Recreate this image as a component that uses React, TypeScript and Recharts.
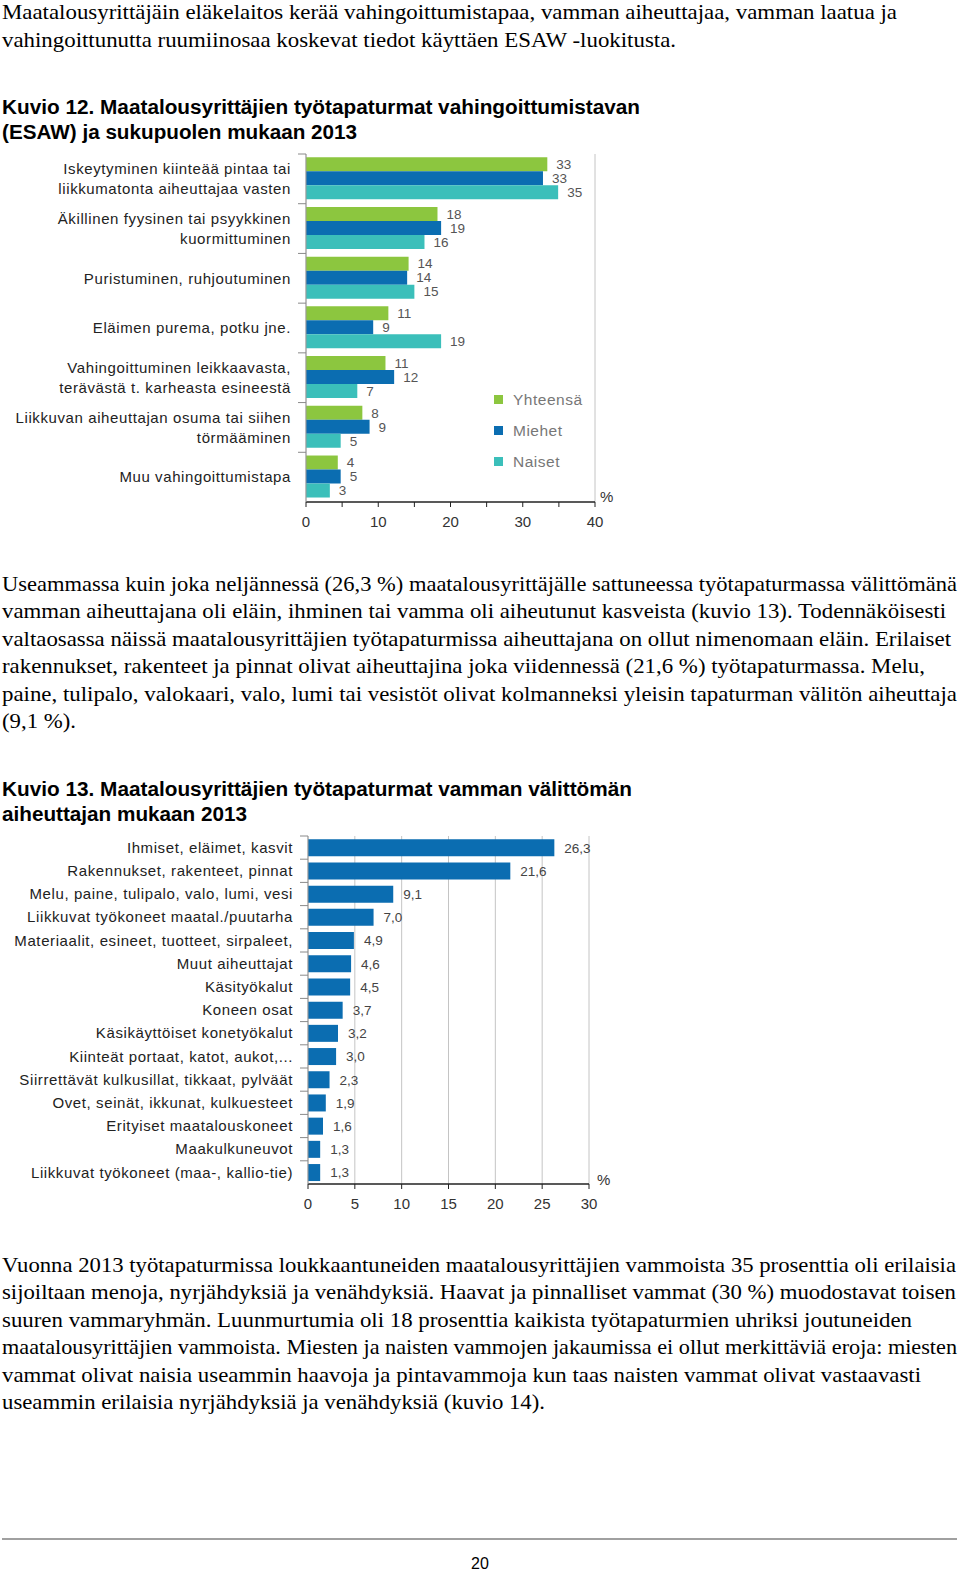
import React from 'react';
import { Bar, BarChart, CartesianGrid, LabelList, Legend, XAxis, YAxis } from 'recharts';

// Kuvio 12: vahingoittumistapa (ESAW) ja sukupuoli, %
const injuryModes = [
  'Iskeytyminen kiinteää pintaa tai\nliikkumatonta aiheuttajaa vasten',
  'Äkillinen fyysinen tai psyykkinen\nkuormittuminen',
  'Puristuminen, ruhjoutuminen',
  'Eläimen purema, potku jne.',
  'Vahingoittuminen leikkaavasta,\nterävästä t. karheasta esineestä',
  'Liikkuvan aiheuttajan osuma tai siihen\ntörmääminen',
  'Muu vahingoittumistapa',
];
const totalPct = [33.4, 18.2, 14.2, 11.4, 11.0, 7.8, 4.4];
const menPct = [32.8, 18.7, 14.0, 9.3, 12.2, 8.8, 4.8];
const womenPct = [34.9, 16.4, 15.0, 18.7, 7.1, 4.8, 3.3];
const seriesNames = ['Yhteensä', 'Miehet', 'Naiset'];
const modeTicks = [0, 5, 10, 15, 20, 25, 30, 35, 40];
const modeGrid = [10, 20, 30, 40];

// Kuvio 13: vamman välitön aiheuttaja, %
const causes = [
  'Ihmiset, eläimet, kasvit',
  'Rakennukset, rakenteet, pinnat',
  'Melu, paine, tulipalo, valo, lumi, vesi',
  'Liikkuvat työkoneet maatal./puutarha',
  'Materiaalit, esineet, tuotteet, sirpaleet,',
  'Muut aiheuttajat',
  'Käsityökalut',
  'Koneen osat',
  'Käsikäyttöiset konetyökalut',
  'Kiinteät portaat, katot, aukot,...',
  'Siirrettävät kulkusillat, tikkaat, pylväät',
  'Ovet, seinät, ikkunat, kulkuesteet',
  'Erityiset maatalouskoneet',
  'Maakulkuneuvot',
  'Liikkuvat työkoneet (maa-, kallio-tie)',
];
const causeShares = [26.3, 21.6, 9.1, 7.0, 4.9, 4.6, 4.5, 3.7, 3.2, 3.0, 2.3, 1.9, 1.6, 1.3, 1.3];
const causeTicks = [0, 5, 10, 15, 20, 25, 30];

const GREEN = '#8cc63f';
const BLUE = '#0b6db1';
const TEAL = '#3bbfba';
const SANS = '"Liberation Sans", Arial, sans-serif';
const SERIF = '"Liberation Serif", "Times New Roman", serif';

const modeData = injuryModes.map((name, i) => ({
  name,
  total: totalPct[i],
  men: menPct[i],
  women: womenPct[i],
}));
const causeData = causes.map((name, i) => ({ name, share: causeShares[i] }));

// page text: [text, baseline y, width]
const para1 = [
  ['Maatalousyrittäjäin eläkelaitos kerää vahingoittumistapaa, vamman aiheuttajaa, vamman laatua ja', 19, 895],
  ['vahingoittunutta ruumiinosaa koskevat tiedot käyttäen ESAW -luokitusta.', 47, 674],
];
const heading12 = [
  ['Kuvio 12. Maatalousyrittäjien työtapaturmat vahingoittumistavan', 114, 638],
  ['(ESAW) ja sukupuolen mukaan 2013', 139, 355],
];
const para2 = [
  ['Useammassa kuin joka neljännessä (26,3 %) maatalousyrittäjälle sattuneessa työtapaturmassa välittömänä', 591, 955],
  ['vamman aiheuttajana oli eläin, ihminen tai vamma oli aiheutunut kasveista (kuvio 13). Todennäköisesti', 618, 944],
  ['valtaosassa näissä maatalousyrittäjien työtapaturmissa aiheuttajana on ollut nimenomaan eläin. Erilaiset', 646, 949],
  ['rakennukset, rakenteet ja pinnat olivat aiheuttajina joka viidennessä (21,6 %) työtapaturmassa. Melu,', 673, 923],
  ['paine, tulipalo, valokaari, valo, lumi tai vesistöt olivat kolmanneksi yleisin tapaturman välitön aiheuttaja', 701, 955],
  ['(9,1 %).', 728, 74],
];
const heading13 = [
  ['Kuvio 13. Maatalousyrittäjien työtapaturmat vamman välittömän', 796, 630],
  ['aiheuttajan mukaan 2013', 821, 245],
];
const para3 = [
  ['Vuonna 2013 työtapaturmissa loukkaantuneiden maatalousyrittäjien vammoista 35 prosenttia oli erilaisia', 1272, 954],
  ['sijoiltaan menoja, nyrjähdyksiä ja venähdyksiä. Haavat ja pinnalliset vammat (30 %) muodostavat toisen', 1299, 954],
  ['suuren vammaryhmän. Luunmurtumia oli 18 prosenttia kaikista työtapaturmien uhriksi joutuneiden', 1327, 910],
  ['maatalousyrittäjien vammoista. Miesten ja naisten vammojen jakaumissa ei ollut merkittäviä eroja: miesten', 1354, 955],
  ['vammat olivat naisia useammin haavoja ja pintavammoja kun taas naisten vammat olivat vastaavasti', 1382, 919],
  ['useammin erilaisia nyrjähdyksiä ja venähdyksiä (kuvio 14).', 1409, 543],
];

const TextLines = ({ lines, font, size, weight }: any) => (
  <>
    {lines.map(([t, y, w]: any) => (
      <text
        key={t}
        x={2}
        y={y}
        textLength={w}
        lengthAdjust="spacingAndGlyphs"
        fontFamily={font}
        fontSize={size}
        fontWeight={weight}
        fill="#000"
      >
        {t}
      </text>
    ))}
  </>
);

const CategoryTick = (props: any) => {
  const { y, payload, axisX, tickLen, gap, lineGap, fontSize } = props;
  const lines = String(payload.value).split('\n');
  const half = payload.offset ?? 0;
  const tx = axisX - tickLen - gap;
  const y0 = y - ((lines.length - 1) * lineGap) / 2;
  return (
    <g>
      <line x1={axisX - tickLen} x2={axisX} y1={y - half} y2={y - half} stroke="#8a8a8a" />
      <text textAnchor="end" fontFamily={SANS} fontSize={fontSize} letterSpacing={0.6} fill="#222">
        {lines.map((l, i) => (
          <tspan key={i} x={tx} y={y0 + i * lineGap} dy="0.35em">
            {l}
          </tspan>
        ))}
      </text>
    </g>
  );
};

const LegendBox = (props: any) => {
  const items = [...(props.payload || [])].sort(
    (a: any, b: any) => seriesNames.indexOf(a.value) - seriesNames.indexOf(b.value),
  );
  return (
    <div style={{ fontFamily: SANS, fontSize: 15.5, color: '#777', letterSpacing: 0.5 }}>
      {items.map((p: any) => (
        <div key={p.value} style={{ display: 'flex', alignItems: 'center', height: 31 }}>
          <span style={{ width: 9, height: 9, background: p.color, marginRight: 10, display: 'inline-block' }} />
          {p.value}
        </div>
      ))}
    </div>
  );
};

const roundLabel = (v: any) => String(Math.round(Number(v)));
const commaLabel = (v: any) => Number(v).toFixed(1).replace('.', ',');

const ModeChart = () => (
  <BarChart
    width={620}
    height={394}
    data={modeData}
    layout="vertical"
    margin={{ top: 10, right: 25, bottom: 6, left: 0 }}
    barCategoryGap="6.5%"
    barGap={0}
  >
    <CartesianGrid xAxisId="grid" vertical horizontal={false} stroke="#c4c4c4" />
    <XAxis
      type="number"
      domain={[0, 40]}
      ticks={modeTicks}
      interval={0}
      tickFormatter={(v: number) => (v % 10 === 0 ? String(v) : '')}
      tickSize={5}
      tickMargin={9}
      tickLine={{ stroke: '#222' }}
      axisLine={{ stroke: '#222', strokeWidth: 1.5 }}
      tick={{ fill: '#333', fontSize: 15, fontFamily: SANS }}
      height={30}
      label={{ value: '%', position: 'right', offset: 5, dy: -20, fill: '#333', fontSize: 15, fontFamily: SANS }}
    />
    <XAxis xAxisId="grid" type="number" domain={[0, 40]} ticks={modeGrid} hide />
    <YAxis
      type="category"
      dataKey="name"
      width={306}
      interval={0}
      tickLine={false}
      axisLine={{ stroke: '#999' }}
      tick={<CategoryTick axisX={306} tickLen={8} gap={7} lineGap={20} fontSize={15} />}
    />
    <Legend
      layout="vertical"
      align="center"
      verticalAlign="middle"
      wrapperStyle={{ left: 494, top: 240, width: 120 }}
      content={<LegendBox />}
    />
    <Bar dataKey="total" name={seriesNames[0]} fill={GREEN} isAnimationActive={false}>
      <LabelList dataKey="total" position="right" offset={9} formatter={roundLabel} fill="#555" fontSize={13.5} fontFamily={SANS} />
    </Bar>
    <Bar dataKey="men" name={seriesNames[1]} fill={BLUE} isAnimationActive={false}>
      <LabelList dataKey="men" position="right" offset={9} formatter={roundLabel} fill="#555" fontSize={13.5} fontFamily={SANS} />
    </Bar>
    <Bar dataKey="women" name={seriesNames[2]} fill={TEAL} isAnimationActive={false}>
      <LabelList dataKey="women" position="right" offset={9} formatter={roundLabel} fill="#555" fontSize={13.5} fontFamily={SANS} />
    </Bar>
  </BarChart>
);

const CauseChart = () => (
  <BarChart
    width={620}
    height={394}
    data={causeData}
    layout="vertical"
    margin={{ top: 10, right: 31, bottom: 6, left: 0 }}
    barCategoryGap="14%"
  >
    <CartesianGrid vertical horizontal={false} stroke="#c4c4c4" />
    <XAxis
      type="number"
      domain={[0, 30]}
      ticks={causeTicks}
      interval={0}
      tickSize={5}
      tickMargin={9}
      tickLine={{ stroke: '#222' }}
      axisLine={{ stroke: '#222', strokeWidth: 1.5 }}
      tick={{ fill: '#333', fontSize: 15, fontFamily: SANS }}
      height={30}
      label={{ value: '%', position: 'right', offset: 8, dy: -19, fill: '#333', fontSize: 15, fontFamily: SANS }}
    />
    <YAxis
      type="category"
      dataKey="name"
      width={308}
      interval={0}
      tickLine={false}
      axisLine={{ stroke: '#999' }}
      tick={<CategoryTick axisX={308} tickLen={8} gap={7} lineGap={20} fontSize={15} />}
    />
    <Bar dataKey="share" fill={BLUE} isAnimationActive={false}>
      <LabelList dataKey="share" position="right" offset={10} formatter={commaLabel} fill="#444" fontSize={13.5} fontFamily={SANS} />
    </Bar>
  </BarChart>
);

export default function App() {
  return (
    <div style={{ position: 'absolute', left: 0, top: 0, width: 960, height: 1572, background: '#fff', overflow: 'hidden' }}>
      <svg width={960} height={1572} style={{ position: 'absolute', left: 0, top: 0 }}>
        <TextLines lines={para1} font={SERIF} size={21} />
        <TextLines lines={heading12} font={SANS} size={20} weight="bold" />
        <TextLines lines={para2} font={SERIF} size={21} />
        <TextLines lines={heading13} font={SANS} size={20} weight="bold" />
        <TextLines lines={para3} font={SERIF} size={21} />
        <rect x={2} y={1538} width={955} height={2} fill="#a0a0a0" />
        <text x={480} y={1569} textAnchor="middle" fontFamily={SANS} fontSize={16} fill="#000">
          20
        </text>
      </svg>
      <div style={{ position: 'absolute', left: 0, top: 144 }}>
        <ModeChart />
      </div>
      <div style={{ position: 'absolute', left: 0, top: 826 }}>
        <CauseChart />
      </div>
    </div>
  );
}
